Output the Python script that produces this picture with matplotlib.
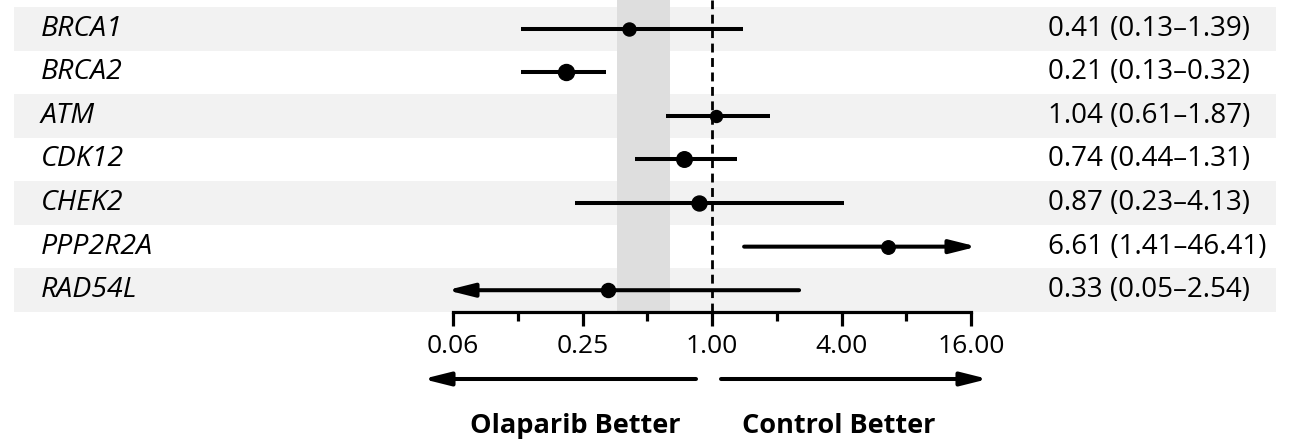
import numpy as np
import matplotlib
matplotlib.use('Agg')
import matplotlib.pyplot as plt
from matplotlib.transforms import offset_copy

plt.rcParams['font.family'] = ['Open Sans', 'DejaVu Sans']

# data
genes = ['BRCA1', 'BRCA2', 'ATM', 'CDK12', 'CHEK2', 'PPP2R2A', 'RAD54L']
hr = [0.41, 0.21, 1.04, 0.74, 0.87, 6.61, 0.33]
ci_low = [0.13, 0.13, 0.61, 0.44, 0.23, 1.41, 0.05]
ci_high = [1.39, 0.32, 1.87, 1.31, 4.13, 46.41, 2.54]
overall_ci = [0.36, 0.64]
xticks = [0.0625, 0.25, 1, 4, 16]
xticklabels = ['0.06', '0.25', '1.00', '4.00', '16.00']
xminor = [0.125, 0.5, 2, 8]

# marker diameters (points), roughly as drawn
msizes = [9.4, 11.5, 8.6, 11.2, 10.8, 9.7, 10.1]

W, H = 1298, 441
fig = plt.figure(figsize=(W/100, H/100), dpi=100)
ax = fig.add_axes([453/W, 1-312/H, 518/W, 312/H])
ax.set_xscale('log', base=2)
xlo, xhi = xticks[0], xticks[-1]
ax.set_xlim(xlo, xhi)
ax.set_ylim(6.5, -0.5-7/43.6)

# alternating row shading
for i in range(len(genes)):
    if i % 2 == 0:
        r = ax.axhspan(i-0.5, i+0.5, xmin=(14-453)/518, xmax=(1276-453)/518,
                       color='#f2f2f2', lw=0, zorder=0)
        r.set_clip_on(False)

ax.axvspan(overall_ci[0], overall_ci[1], color='#dedede', lw=0, zorder=1)
ax.axvline(1, color='black', lw=2, ls=(0, (3.2, 2)), zorder=2)

astyle = '-|>,head_length=16,head_width=4'
for i, g in enumerate(genes):
    lo = max(ci_low[i], xlo)
    hi = min(ci_high[i], xhi)
    if ci_low[i] < xlo or ci_high[i] > xhi:
        if ci_high[i] > xhi:
            start, end, dx = lo, hi, 6
        else:
            start, end, dx = hi, lo, -6
        tip = offset_copy(ax.transData, fig=fig, x=dx, y=0, units='dots')
        ax.annotate('', xy=(end, i), xycoords=tip, xytext=(start, i), textcoords='data',
                    arrowprops=dict(arrowstyle=astyle, mutation_scale=1, lw=2.9,
                                    color='black', shrinkA=0, shrinkB=0), zorder=3)
    else:
        ax.plot([lo, hi], [i, i], color='black', lw=2.9, solid_capstyle='butt', zorder=3)
    ax.plot(hr[i], i, 'o', color='black', ms=msizes[i], zorder=4)
    ax.text((41-453)/518, i, g, transform=ax.get_yaxis_transform(), style='italic',
            fontsize=20.5, va='center', ha='left')
    txt = '%.2f (%.2f\u2013%.2f)' % (hr[i], ci_low[i], ci_high[i])
    ax.text((1048-453)/518, i, txt, transform=ax.get_yaxis_transform(),
            fontsize=20, va='center', ha='left')

for s in ['top', 'left', 'right']:
    ax.spines[s].set_visible(False)
ax.spines['bottom'].set_linewidth(2.3)
ax.set_yticks([])
ax.set_xticks(xticks)
ax.set_xticklabels(xticklabels)
ax.set_xticks(xminor, minor=True)
ax.xaxis.set_minor_formatter(matplotlib.ticker.NullFormatter())
ax.tick_params(axis='x', which='major', length=10, width=2.3, labelsize=19, pad=5.5)
ax.tick_params(axis='x', which='minor', length=6.5, width=2.3)
ax.set_facecolor('none')

# direction arrows and labels
y_arr = 1-379/H
for a, b in [(696, 423), (721, 988)]:
    fig.add_artist(matplotlib.patches.FancyArrowPatch(
        (a/W, y_arr), (b/W, y_arr), transform=fig.transFigure,
        arrowstyle=astyle, mutation_scale=1,
        lw=2.9, color='black', shrinkA=0, shrinkB=0))
fig.text(575/W, 1-433/H, 'Olaparib Better', fontsize=19.5, fontweight='bold',
         ha='center', va='baseline')
fig.text(839/W, 1-433/H, 'Control Better', fontsize=19.5, fontweight='bold',
         ha='center', va='baseline')

fig.savefig('out.png', dpi=100)
